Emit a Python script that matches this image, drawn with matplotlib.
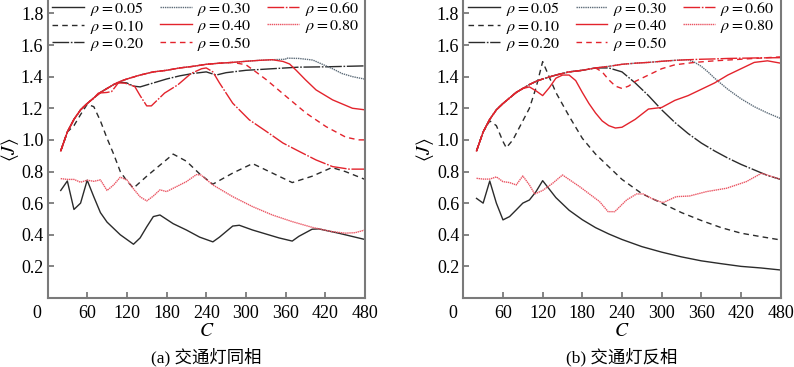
import matplotlib
matplotlib.use("Agg")
import matplotlib.pyplot as plt

plt.rcParams['font.family'] = ['Liberation Serif', 'Noto Sans CJK SC']
plt.rcParams['mathtext.fontset'] = 'stix'
plt.rcParams['font.size'] = 12

# common free-flow envelope
env_c = [20, 30, 40, 50, 60, 70, 80, 90, 100, 110, 120, 140, 160, 180, 200, 220, 240,
         260, 280, 300, 320, 340, 360, 380, 400, 440, 480]
env_j = [0.93, 1.05, 1.13, 1.19, 1.23, 1.265, 1.30, 1.325, 1.35, 1.37, 1.385, 1.41, 1.43,
         1.44, 1.455, 1.465, 1.478, 1.485, 1.49, 1.497, 1.503, 1.507, 1.51, 1.512, 1.515,
         1.518, 1.52]

rhos = ['0.05', '0.10', '0.20', '0.30', '0.40', '0.50', '0.60', '0.80']

# (a) in phase
a05_c = [20, 30, 40, 50, 60, 70, 80, 90, 100, 110, 120, 130, 140, 150, 160, 170, 190, 210,
         230, 250, 260, 280, 290, 310, 330, 350, 370, 380, 400, 410, 440, 480]
a05_j = [0.68, 0.74, 0.56, 0.60, 0.745, 0.64, 0.54, 0.48, 0.44, 0.40, 0.37, 0.34, 0.38,
         0.45, 0.515, 0.525, 0.47, 0.43, 0.385, 0.355, 0.385, 0.455, 0.46, 0.43, 0.405,
         0.38, 0.36, 0.39, 0.435, 0.437, 0.41, 0.37]
a10_c = [20, 30, 40, 50, 60, 70, 80, 90, 100, 110, 120, 130, 150, 170, 190, 210, 230, 250,
         280, 310, 340, 370, 400, 430, 450, 480]
a10_j = [0.93, 1.05, 1.09, 1.16, 1.225, 1.21, 1.12, 1.01, 0.91, 0.80, 0.74, 0.695, 0.77,
         0.84, 0.91, 0.865, 0.785, 0.72, 0.79, 0.85, 0.79, 0.73, 0.77, 0.825, 0.80, 0.75]
a20_c = [110, 120, 130, 140, 160, 180, 200, 220, 240, 255, 270, 300, 340, 380, 420, 480]
a20_j = [1.365, 1.36, 1.34, 1.335, 1.36, 1.385, 1.405, 1.42, 1.43, 1.41, 1.425, 1.44,
         1.45, 1.46, 1.462, 1.468]
a30_c = [361, 380, 401, 420, 431, 445, 461, 480]
a30_j = [1.517, 1.515, 1.505, 1.47, 1.45, 1.42, 1.40, 1.384]
a40_c = [356, 366, 376, 390, 406, 431, 461, 480]
a40_j = [1.496, 1.48, 1.44, 1.38, 1.316, 1.253, 1.20, 1.19]
a50_c = [300, 315, 331, 361, 391, 421, 451, 470, 480]
a50_j = [1.475, 1.43, 1.38, 1.274, 1.169, 1.084, 1.017, 1.0, 1.0]
a60_c = [77, 90, 97, 107, 117, 132, 140, 150, 157, 177, 197, 217, 233, 240, 250, 260, 280,
         305, 331, 356, 381, 406, 431, 456, 480]
a60_j = [1.296, 1.30, 1.306, 1.36, 1.359, 1.337, 1.28, 1.215, 1.215, 1.296, 1.348, 1.42,
         1.45, 1.455, 1.43, 1.36, 1.232, 1.127, 1.053, 0.98, 0.926, 0.873, 0.831, 0.815,
         0.815]
a80_c = [20, 30, 40, 50, 60, 70, 80, 90, 100, 110, 120, 130, 140, 150, 160, 170, 180, 190,
         210, 225, 232, 250, 280, 310, 340, 370, 400, 430, 450, 465, 480]
a80_j = [0.755, 0.75, 0.75, 0.732, 0.745, 0.738, 0.747, 0.68, 0.715, 0.764, 0.747, 0.69,
         0.64, 0.614, 0.645, 0.684, 0.673, 0.694, 0.736, 0.78, 0.778, 0.715, 0.641, 0.578,
         0.525, 0.483, 0.447, 0.42, 0.41, 0.413, 0.43]

# (b) anti-phase
b05_c = [20, 30, 40, 50, 60, 70, 80, 90, 100, 110, 120, 140, 160, 180, 200, 220, 240, 270,
         300, 330, 360, 390, 420, 450, 480]
b05_j = [0.63, 0.60, 0.74, 0.60, 0.494, 0.515, 0.557, 0.60, 0.62, 0.673, 0.742, 0.635,
         0.555, 0.495, 0.445, 0.405, 0.37, 0.325, 0.29, 0.26, 0.235, 0.217, 0.20, 0.19,
         0.177]
b10_c = [20, 30, 40, 50, 60, 65, 75, 85, 100, 110, 120, 140, 160, 180, 200, 220, 240, 270,
         300, 330, 360, 390, 420, 450, 480]
b10_j = [0.93, 1.05, 1.12, 1.09, 0.99, 0.95, 1.0, 1.08, 1.20, 1.33, 1.495, 1.30, 1.15,
         1.01, 0.91, 0.83, 0.75, 0.66, 0.60, 0.54, 0.49, 0.445, 0.41, 0.388, 0.367]
b20_c = [220, 240, 260, 280, 300, 320, 340, 360, 380, 400, 420, 440, 460, 480]
b20_j = [1.455, 1.43, 1.36, 1.28, 1.19, 1.11, 1.04, 0.98, 0.93, 0.885, 0.845, 0.81,
         0.775, 0.75]
b30_c = [350, 360, 370, 380, 400, 420, 440, 460, 480]
b30_j = [1.49, 1.465, 1.43, 1.39, 1.32, 1.26, 1.21, 1.17, 1.135]
b40_c = [100, 110, 120, 130, 140, 150, 160, 170, 180, 190, 200, 210, 220, 230, 240, 260,
         280, 300, 320, 340, 360, 380, 400, 420, 440, 460, 480]
b40_j = [1.335, 1.31, 1.28, 1.33, 1.39, 1.41, 1.41, 1.375, 1.30, 1.23, 1.17, 1.12, 1.09,
         1.075, 1.08, 1.13, 1.195, 1.205, 1.25, 1.28, 1.32, 1.36, 1.41, 1.45, 1.49, 1.50,
         1.485]
b50_c = [210, 220, 230, 240, 250, 260, 280, 300, 320, 350, 380, 420, 480]
b50_j = [1.43, 1.38, 1.34, 1.325, 1.34, 1.37, 1.41, 1.45, 1.475, 1.49, 1.50, 1.51, 1.525]
b80_c = [20, 30, 40, 50, 60, 70, 80, 90, 100, 108, 120, 135, 150, 176, 206, 219, 229, 247,
         262, 272, 287, 302, 322, 342, 368, 398, 428, 451, 480]
b80_j = [0.757, 0.752, 0.752, 0.766, 0.736, 0.73, 0.715, 0.772, 0.715, 0.658, 0.68, 0.725,
         0.778, 0.704, 0.61, 0.546, 0.546, 0.62, 0.658, 0.658, 0.625, 0.603, 0.641, 0.645,
         0.673, 0.694, 0.736, 0.789, 0.75]


def head(cmax):
    # envelope points before a curve leaves it
    c = [x for x in env_c if x < cmax]
    j = env_j[:len(c)]
    return c, j


def join(cmax, c, j):
    hc, hj = head(cmax)
    return hc + c, hj + j


black = '#2b2b2b'
gray = '#5c6b78'
red = '#e3232c'
pink = '#ea5563'
styles = [
    dict(color=black, ls='-'),
    dict(color=black, ls=(0, (4, 3))),
    dict(color=black, ls=(0, (12, 1.2, 1.2, 1.2))),
    dict(color=gray, ls=(0, (1, 0.6))),
    dict(color=red, ls='-'),
    dict(color=red, ls=(0, (4, 3))),
    dict(color=red, ls=(0, (12, 1.2, 1.2, 1.2))),
    dict(color=pink, ls=(0, (1, 0.5))),
]

panel_a = [
    (a05_c, a05_j),
    (a10_c, a10_j),
    join(a20_c[0], a20_c, a20_j),
    join(a30_c[0], a30_c, a30_j),
    join(a40_c[0], a40_c, a40_j),
    join(a50_c[0], a50_c, a50_j),
    join(a60_c[0], a60_c, a60_j),
    (a80_c, a80_j),
]
panel_b = [
    (b05_c, b05_j),
    (b10_c, b10_j),
    join(b20_c[0], b20_c, b20_j),
    join(b30_c[0], b30_c, b30_j),
    join(b40_c[0], b40_c, b40_j),
    join(b50_c[0], b50_c, b50_j),
    (env_c, env_j),
    (b80_c, b80_j),
]

W, H = 794, 367
fig = plt.figure(figsize=(W / 100, H / 100), dpi=100)

boxes = [(47.5, 365), (463.3, 780.7)]
captions = ['(a) 交通灯同相', '(b) 交通灯反相']

for (x0, x1), data, cap in zip(boxes, [panel_a, panel_b], captions):
    ax = fig.add_axes([x0 / W, 1 - 298 / H, (x1 - x0) / W, 298 / H - 0.002])
    for (c, j), st, r in zip(data, styles, rhos):
        ax.plot(c, j, lw=1.0, label=r'$\rho=%s$' % r, **st)
    ax.set_xlim(0, 480)
    ax.set_ylim(0, 1.88)
    ax.set_xticks([60, 120, 180, 240, 300, 360, 420, 480])
    ax.set_yticks([0.2, 0.4, 0.6, 0.8, 1.0, 1.2, 1.4, 1.6, 1.8])
    ax.set_yticklabels(['0.2', '0.4', '0.6', '0.8', '1.0', '1.2', '1.4', '1.6', '1.8'])
    ax.tick_params(direction='in', length=4, width=1.2, color='#707070',
                   labelsize=13, pad=3)
    ax.tick_params(axis='x', pad=5)
    for s in ax.spines.values():
        s.set_color('#7a7a7a')
        s.set_linewidth(1.5)
    ax.spines['top'].set_visible(False)
    ax.text(-0.02, -0.022, '0', transform=ax.transAxes, ha='right', va='top', fontsize=13)
    ax.set_xlabel(r'$C$', fontsize=14, labelpad=1)
    ax.set_ylabel(r'$\langle J\rangle$', fontsize=14)
    ax.yaxis.set_label_coords(-0.085, 0.5)
    ax.text(0.5, -0.198, cap, transform=ax.transAxes, ha='center', va='center',
            fontsize=12.5)
    ax.legend(loc='upper left', bbox_to_anchor=(0.0, 1.02), ncol=3, frameon=False,
              fontsize=11.5, handlelength=2.0, handletextpad=0.35, columnspacing=1.0,
              labelspacing=0.0, borderaxespad=0.2, borderpad=0.1)

fig.savefig('out.png', dpi=100)
